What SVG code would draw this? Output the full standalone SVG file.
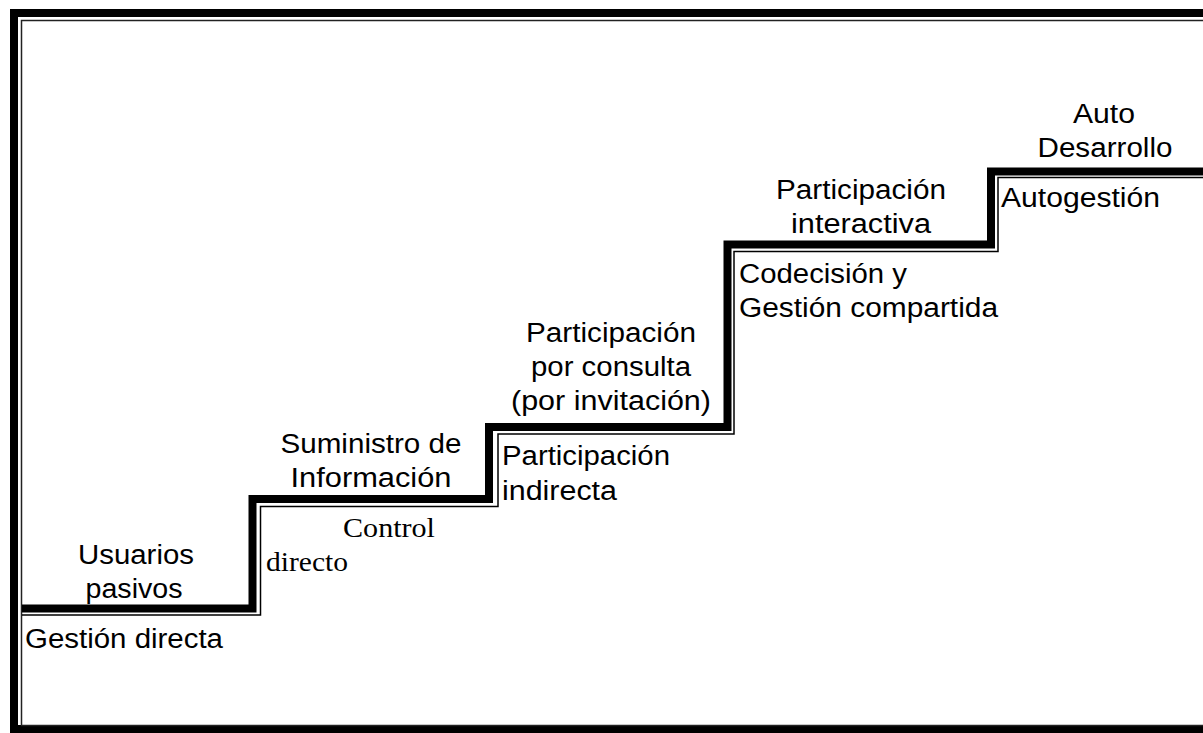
<svg xmlns="http://www.w3.org/2000/svg" width="1203" height="733" viewBox="0 0 1203 733">
<style>
.s{font-family:"Liberation Sans",Arial,sans-serif;font-size:27px;fill:#000}
.r{font-family:"Liberation Serif","Times New Roman",serif;font-size:27px;fill:#000}
.thick{fill:none;stroke:#000;stroke-width:8;stroke-linejoin:miter}
.thin{fill:none;stroke:#000;stroke-width:1.5;stroke-linejoin:miter}
</style>
<rect x="0" y="0" width="1203" height="733" fill="#fff"/>
<g id="frame">
<rect x="14" y="13" width="1200" height="716" fill="none" stroke="#000" stroke-width="8"/>
<rect x="21.5" y="20.5" width="1200" height="705" fill="none" stroke="#222" stroke-width="1.5"/>
</g>
<g id="connectors">
<path class="thick" d="M22 608.5 H252.5 V499 H489 V427 H727.5 V244.5 H991 V171.5 H1210"/>
<path class="thin" d="M22 615 H260.5 V506.5 H498 V434 H734 V251.5 H998 V177.5 H1210"/>
</g>
<g id="step1">
<text class="s" x="136" y="564" text-anchor="middle" textLength="116" lengthAdjust="spacingAndGlyphs">Usuarios</text>
<text class="s" x="134" y="598" text-anchor="middle" textLength="97" lengthAdjust="spacingAndGlyphs">pasivos</text>
<text class="s" x="25" y="648" textLength="198" lengthAdjust="spacingAndGlyphs">Gestión directa</text>
</g>
<g id="step2">
<text class="s" x="371" y="453" text-anchor="middle" textLength="181" lengthAdjust="spacingAndGlyphs">Suministro de</text>
<text class="s" x="371" y="487" text-anchor="middle" textLength="161" lengthAdjust="spacingAndGlyphs">Información</text>
<text class="r" x="343" y="537" textLength="92" lengthAdjust="spacingAndGlyphs">Control</text>
<text class="r" x="266" y="571" textLength="82" lengthAdjust="spacingAndGlyphs">directo</text>
</g>
<g id="step3">
<text class="s" x="611" y="342" text-anchor="middle" textLength="170" lengthAdjust="spacingAndGlyphs">Participación</text>
<text class="s" x="611" y="376" text-anchor="middle" textLength="160" lengthAdjust="spacingAndGlyphs">por consulta</text>
<text class="s" x="611" y="410" text-anchor="middle" textLength="200" lengthAdjust="spacingAndGlyphs">(por invitación)</text>
<text class="s" x="502" y="465" textLength="168" lengthAdjust="spacingAndGlyphs">Participación</text>
<text class="s" x="502" y="500" textLength="115" lengthAdjust="spacingAndGlyphs">indirecta</text>
</g>
<g id="step4">
<text class="s" x="861" y="199" text-anchor="middle" textLength="170" lengthAdjust="spacingAndGlyphs">Participación</text>
<text class="s" x="861" y="233" text-anchor="middle" textLength="140" lengthAdjust="spacingAndGlyphs">interactiva</text>
<text class="s" x="739" y="283" textLength="168" lengthAdjust="spacingAndGlyphs">Codecisión y</text>
<text class="s" x="739" y="317" textLength="259" lengthAdjust="spacingAndGlyphs">Gestión compartida</text>
</g>
<g id="step5">
<text class="s" x="1104" y="123" text-anchor="middle" textLength="62" lengthAdjust="spacingAndGlyphs">Auto</text>
<text class="s" x="1105" y="157" text-anchor="middle" textLength="135" lengthAdjust="spacingAndGlyphs">Desarrollo</text>
<text class="s" x="1001" y="207" textLength="159" lengthAdjust="spacingAndGlyphs">Autogestión</text>
</g>
</svg>
